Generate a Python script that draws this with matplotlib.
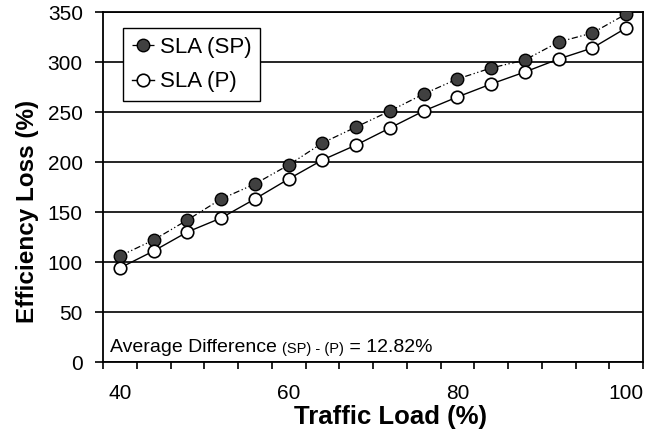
import matplotlib
matplotlib.use("Agg")
import matplotlib.pyplot as plt
import numpy as np
from matplotlib.ticker import MultipleLocator, FixedLocator

# traffic load categories (%)
load = [40, 44, 48, 52, 56, 60, 64, 68, 72, 76, 80, 84, 88, 92, 96, 100]
sla_sp = [106, 122, 142, 163, 178, 197, 219, 235, 251, 268, 283, 294, 302, 320, 329, 348]
sla_p = [94, 111, 130, 144, 163, 183, 202, 217, 234, 251, 265, 278, 290, 303, 314, 334]
xtick_labels = [40, 60, 80, 100]

plt.rcParams['font.family'] = ['Liberation Sans', 'DejaVu Sans']

fig = plt.figure(figsize=(6.68, 4.36), dpi=100)
ax = fig.add_axes([103 / 668, 74 / 436, 540 / 668, 350 / 436])

ax.plot(load, sla_sp, color='black', lw=0.9, ls=(0, (5, 2, 1, 2, 1, 2)),
        marker='o', ms=9, mfc='#404040', mec='black', mew=1.0, label='SLA (SP)', zorder=3)
ax.plot(load, sla_p, color='black', lw=1.0, ls='-',
        marker='o', ms=9, mfc='white', mec='black', mew=1.2, label='SLA (P)', zorder=3)

ax.set_xlim(38, 102)
ax.set_ylim(0, 350)

ax.yaxis.set_major_locator(MultipleLocator(50))
ax.yaxis.grid(True, color='black', lw=1.2)
ax.set_axisbelow(True)

ax.xaxis.set_major_locator(FixedLocator(xtick_labels))
ax.xaxis.set_minor_locator(MultipleLocator(4, offset=2))
ax.tick_params(axis='x', which='major', length=0, pad=15.5, labelsize=15)
ax.tick_params(axis='x', which='minor', length=5, width=1.2, direction='out')
ax.tick_params(axis='y', which='major', length=6, width=1.2, direction='out', pad=8.5, labelsize=15)

for s in ax.spines.values():
    s.set_linewidth(1.3)

leg = ax.legend(loc='upper left', bbox_to_anchor=(0.037, 0.954), borderaxespad=0,
                fontsize=16, frameon=True, fancybox=False, edgecolor='black',
                handlelength=1.0, handletextpad=0.25, borderpad=0.4, labelspacing=0.6)
leg.get_frame().set_linewidth(1.0)
leg.get_frame().set_alpha(1)

t1 = ax.text(0.013, 10, 'Average Difference ', transform=ax.get_yaxis_transform(),
             fontsize=14, va='baseline', ha='left')
t2 = ax.annotate('(SP) - (P)', xy=(1, 0), xycoords=t1, fontsize=10.5, va='bottom', ha='left')
ax.annotate(' = 12.82%', xy=(1, 0), xycoords=t2, fontsize=14, va='bottom', ha='left')

fig.text(391 / 668, 1 - 417 / 436, 'Traffic Load (%)', fontsize=18.5, fontweight='bold',
         ha='center', va='center')
fig.text(28 / 668, 1 - 211 / 436, 'Efficiency Loss (%)', fontsize=17.5, fontweight='bold',
         ha='center', va='center', rotation=90)

fig.savefig('out.png', dpi=100)
